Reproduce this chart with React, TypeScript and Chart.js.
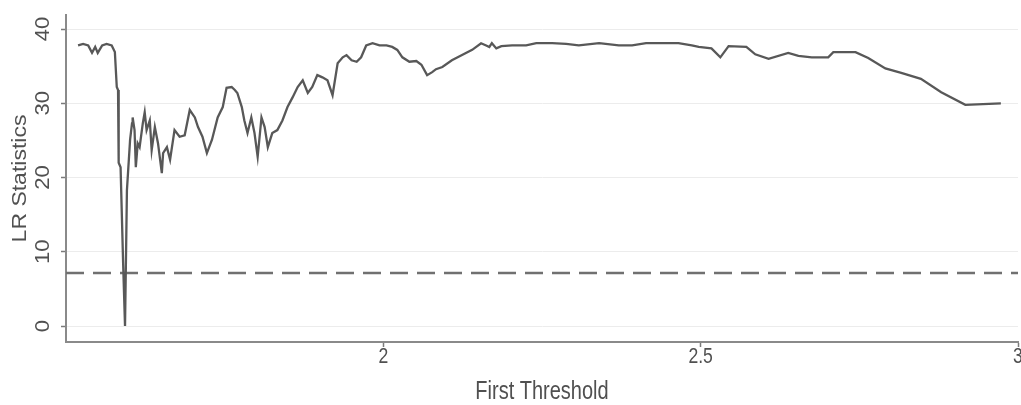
import { useEffect, useRef } from 'react';
import { Chart, registerables } from 'chart.js';

Chart.register(...registerables);

// First-threshold grid values (x) and LR statistics (y)
const thresholdValues: number[] = [
  1.519, 1.527, 1.535, 1.541, 1.546, 1.550, 1.557, 1.564, 1.572, 1.577,
  1.580, 1.582, 1.583, 1.586, 1.590, 1.593, 1.596, 1.601, 1.604, 1.605,
  1.608, 1.610, 1.613, 1.616, 1.621, 1.624, 1.627, 1.632, 1.635, 1.640,
  1.645, 1.651, 1.653, 1.659, 1.664, 1.671, 1.679, 1.687, 1.695, 1.703,
  1.708, 1.715, 1.722, 1.730, 1.739, 1.747, 1.753, 1.761, 1.766, 1.770,
  1.777, 1.781, 1.786, 1.792, 1.797, 1.802, 1.808, 1.813, 1.818, 1.825,
  1.833, 1.841, 1.849, 1.857, 1.865, 1.873, 1.881, 1.888, 1.896, 1.904,
  1.912, 1.920, 1.928, 1.936, 1.942, 1.950, 1.958, 1.965, 1.973, 1.983,
  1.994, 2.005, 2.014, 2.022, 2.030, 2.041, 2.052, 2.060, 2.069, 2.077,
  2.083, 2.093, 2.108, 2.124, 2.140, 2.154, 2.162, 2.167, 2.171, 2.178,
  2.186, 2.203, 2.225, 2.241, 2.266, 2.288, 2.308, 2.340, 2.371, 2.392,
  2.414, 2.445, 2.465, 2.486, 2.497, 2.517, 2.531, 2.544, 2.572, 2.586,
  2.607, 2.638, 2.654, 2.675, 2.701, 2.709, 2.744, 2.764, 2.791, 2.816,
  2.847, 2.879, 2.917, 2.973,
];

const lrStatistics: number[] = [
  37.8, 38.0, 37.8, 36.8, 37.6, 36.8, 37.8, 38.0, 37.8, 36.9,
  32.2, 31.8, 22.0, 21.4, 8.5, 0.0, 18.3, 25.1, 27.3, 28.1,
  26.4, 21.4, 24.6, 24.1, 27.3, 28.8, 26.4, 27.7, 23.7, 26.8,
  24.6, 20.6, 23.3, 24.1, 22.4, 26.4, 25.5, 25.7, 29.1, 28.1,
  26.8, 25.5, 23.3, 25.1, 28.1, 29.5, 32.1, 32.2, 31.8, 31.4,
  29.5, 27.7, 26.0, 28.1, 26.0, 22.8, 28.1, 26.8, 24.1, 26.0,
  26.4, 27.7, 29.5, 30.8, 32.2, 33.1, 31.4, 32.2, 33.8, 33.5,
  33.1, 31.1, 35.4, 36.2, 36.5, 35.8, 35.6, 36.2, 37.8, 38.1,
  37.8, 37.8, 37.6, 37.2, 36.2, 35.6, 35.7, 35.2, 33.8, 34.2,
  34.6, 34.9, 35.8, 36.5, 37.2, 38.1, 37.8, 37.6, 38.1, 37.4,
  37.7, 37.8, 37.8, 38.1, 38.1, 38.0, 37.8, 38.1, 37.8, 37.8,
  38.1, 38.1, 38.1, 37.8, 37.6, 37.4, 36.2, 37.7, 37.6, 36.6,
  36.0, 36.8, 36.4, 36.2, 36.2, 36.9, 36.9, 36.1, 34.7, 34.1,
  33.3, 31.5, 29.8, 30.0,
];

const criticalValue = 7.15;

const xRange: number[] = [1.5, 3.0];
const yRange: number[] = [-2.15, 41.9];

const xTickValues: number[] = [2, 2.5, 3];
const xTickLabels: string[] = ['2', '2.5', '3'];
const yTickValues: number[] = [0, 10, 20, 30, 40];
const yTickLabels: string[] = ['0', '10', '20', '30', '40'];

const xTitle = 'First Threshold';
const yTitle = 'LR Statistics';

const TEXT_COLOR = '#505050';
const FONT_FAMILY = '"Liberation Sans", Arial, sans-serif';

export default function App() {
  const canvasRef = useRef<HTMLCanvasElement>(null);

  useEffect(() => {
    const canvas = canvasRef.current;
    if (!canvas) return;

    const textPlugin = {
      id: 'stataText',
      afterDraw(chart: any) {
        const ctx: CanvasRenderingContext2D = chart.ctx;
        const xs = chart.scales.x;
        const ys = chart.scales.y;
        const draw = (t: string, x: number, y: number, rot: number, size: number, sx: number) => {
          ctx.save();
          ctx.translate(x, y);
          ctx.rotate(rot);
          ctx.scale(sx, 1);
          ctx.font = `${size}px ${FONT_FAMILY}`;
          ctx.fillStyle = TEXT_COLOR;
          ctx.textAlign = 'center';
          ctx.textBaseline = 'middle';
          ctx.fillText(t, 0, 0);
          ctx.restore();
        };
        xTickValues.forEach((v, i) => draw(xTickLabels[i], xs.getPixelForValue(v), 357, 0, 22, 0.8));
        draw(xTitle, (xs.left + xs.right) / 2, 392, 0, 25, 0.8);
        yTickValues.forEach((v, i) => draw(yTickLabels[i], 43, ys.getPixelForValue(v), -Math.PI / 2, 21, 1.05));
        draw(yTitle, 20, (ys.top + ys.bottom) / 2, -Math.PI / 2, 20, 1.15);
      },
    };

    const chart = new Chart(canvas, {
      type: 'line',
      data: {
        datasets: [
          {
            data: thresholdValues.map((x, i) => ({ x, y: lrStatistics[i] })),
            borderColor: '#585858',
            borderWidth: 2.3,
            pointRadius: 0,
            tension: 0,
            fill: false,
          },
          {
            data: [
              { x: xRange[0], y: criticalValue },
              { x: xRange[1], y: criticalValue },
            ],
            borderColor: '#707070',
            borderWidth: 2.5,
            borderDash: [18, 9],
            pointRadius: 0,
            fill: false,
          },
        ],
      },
      options: {
        responsive: false,
        animation: false,
        events: [],
        layout: { padding: { top: 15, right: 3, left: 0, bottom: 0 } },
        plugins: { legend: { display: false }, tooltip: { enabled: false } },
        scales: {
          x: {
            type: 'linear',
            min: xRange[0],
            max: xRange[1],
            afterBuildTicks: (s: any) => {
              s.ticks = xTickValues.map((value) => ({ value }));
            },
            afterFit: (s: any) => {
              s.height = 63;
            },
            ticks: { display: false },
            grid: {
              drawOnChartArea: false,
              drawTicks: true,
              tickLength: 5,
              tickColor: '#7a7a7a',
              tickWidth: 1.5,
            },
            border: { color: '#8a8a8a', width: 2 },
          },
          y: {
            type: 'linear',
            min: yRange[0],
            max: yRange[1],
            afterBuildTicks: (s: any) => {
              s.ticks = yTickValues.map((value) => ({ value }));
            },
            afterFit: (s: any) => {
              s.width = 66;
            },
            ticks: { display: false },
            grid: {
              color: '#ececec',
              lineWidth: 1,
              drawTicks: true,
              tickLength: 5,
              tickColor: '#7a7a7a',
              tickWidth: 1.5,
            },
            border: { color: '#8a8a8a', width: 2 },
          },
        },
      },
      plugins: [textPlugin],
    });

    return () => chart.destroy();
  }, []);

  return (
    <div style={{ position: 'absolute', left: 0, top: 0, width: 1021, height: 405, background: '#ffffff' }}>
      <canvas ref={canvasRef} width={1021} height={405} style={{ display: 'block' }} />
    </div>
  );
}
